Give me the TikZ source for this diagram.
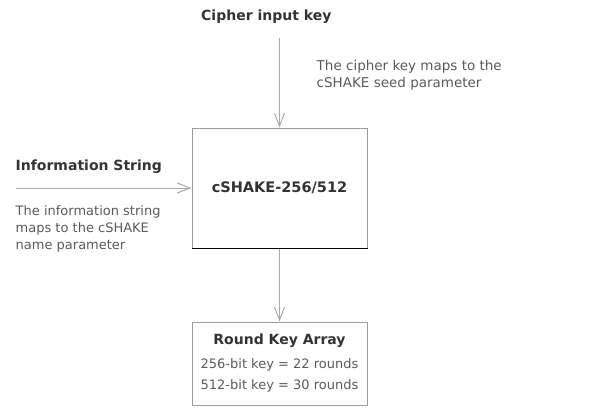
\documentclass[tikz,border=0pt]{standalone}
\usepackage{fontspec}
\setmainfont{DejaVu Sans}
\usetikzlibrary{arrows.meta,positioning}
\definecolor{txtgray}{HTML}{5A5A5A}
\definecolor{txtdark}{HTML}{333333}
\definecolor{linegray}{HTML}{AAAAAA}
\definecolor{boxgray}{HTML}{9A9A9A}

\begin{document}
\begin{tikzpicture}[x=1pt,y=1pt,>={Straight Barb[length=13pt,width=10pt]}]
	\tikzset{block/.style={draw=boxgray, line width=1pt, rectangle, align=center, minimum width=175pt, inner sep=0pt},
		title/.style={rectangle, inner sep=0pt, text=txtdark, font=\bfseries\fontsize{14}{17}\selectfont},
		note/.style={rectangle, inner sep=0pt, align=left, text=txtgray, font=\fontsize{13}{17}\selectfont},
		feed/.style={->, draw=linegray, line width=1pt},
	}
	\useasboundingbox (0,0) rectangle (598,-418);
	\node [block, minimum height=120pt, text=txtdark, font=\bfseries\fontsize{14.5}{17}\selectfont] (shake) at (279.5,-188) {cSHAKE-256/512};
	\draw [black, line width=1pt] (shake.south west) -- (shake.south east);
	\node [block, below = 73pt of shake, minimum height=83pt, text=txtgray, font=\fontsize{13}{21}\selectfont] (rka) {{\color{txtdark}\bfseries\fontsize{14}{17}\selectfont Round Key Array}\\[3pt] 256-bit key = 22 rounds\\ 512-bit key = 30 rounds};
	\node [title, anchor=west] (cik) at (201,-17) {Cipher input key};
	\coordinate [above = 90pt of shake] (cin);
	\draw [feed] (cin) -- (shake);
	\node [note, anchor=west, font=\fontsize{13.5}{17}\selectfont] (cnote) at (316.5,-75) {The cipher key maps to the\\cSHAKE seed parameter};
	\node [title, anchor=west] (infostr) at (15.5,-167) {Information String};
	\coordinate [left = 176pt of shake] (iin);
	\draw [feed] (iin) -- (shake);
	\node [note, anchor=west] (inote) at (15.5,-229) {The information string\\maps to the cSHAKE\\name parameter};
	\draw [feed] (shake) -- (rka);
\end{tikzpicture}
\end{document}
